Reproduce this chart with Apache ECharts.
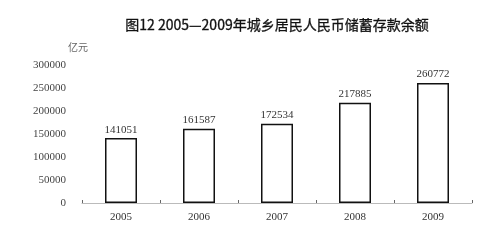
<!DOCTYPE html>
<html><head><meta charset="utf-8">
<script src="https://cdn.jsdelivr.net/npm/echarts@6/dist/echarts.min.js"></script>
<style>html,body{margin:0;padding:0;background:#fff}#c{width:500px;height:243px}</style>
</head><body><div id="c"></div>
<script>
const categories = ['2005','2006','2007','2008','2009'];
const values = [141051, 161587, 172534, 217885, 260772];
const yTicks = [0, 50000, 100000, 150000, 200000, 250000, 300000];
const titleText = '图12 2005—2009年城乡居民人民币储蓄存款余额';
const unitText = '亿元';

const chart = echarts.init(document.getElementById('c'));
chart.setOption({
  animation: false,
  backgroundColor: '#fff',
  title: {
    text: titleText, left: 272, top: 13, textAlign: 'center',
    textStyle: {fontFamily: 'Noto Sans CJK SC', fontSize: 14, fontWeight: 'normal', color: '#111',
      textBorderColor: '#111', textBorderWidth: 0.3}
  },
  graphic: [{type: 'text', left: 68, top: 42, style: {text: unitText, font: '10px "Noto Sans CJK SC"', fill: '#666'}}],
  grid: {left: 82, right: 28, top: 65, bottom: 40},
  xAxis: {
    type: 'category', data: categories,
    axisLine: {lineStyle: {color: '#bbb', width: 1}},
    axisTick: {show: true, inside: true, length: 3, lineStyle: {color: '#666'}},
    axisLabel: {fontFamily: 'Liberation Serif', fontSize: 11, color: '#333', margin: 9}
  },
  yAxis: {
    type: 'value', min: yTicks[0], max: yTicks[yTicks.length-1], interval: 50000,
    axisLine: {show: false}, axisTick: {show: false}, splitLine: {show: false},
    axisLabel: {fontFamily: 'Liberation Serif', fontSize: 11, color: '#444', margin: 16,
      formatter: v => String(v)}
  },
  series: [{
    type: 'bar', data: values, barWidth: 32,
    itemStyle: {color: '#fff', borderColor: '#111', borderWidth: 1.5},
    label: {show: true, position: 'top', distance: 3, fontFamily: 'Liberation Serif', fontSize: 11, color: '#333'}
  }]
});
</script></body></html>
